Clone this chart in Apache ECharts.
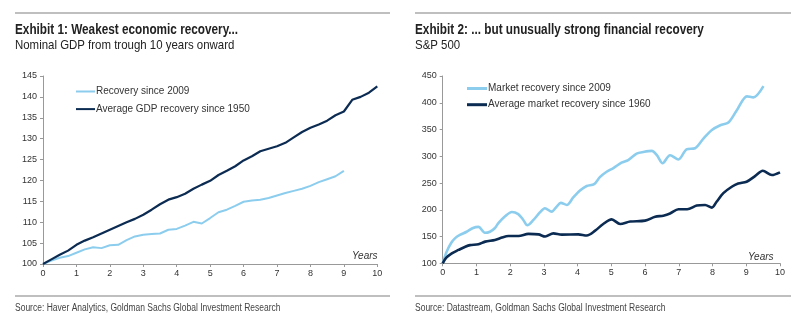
<!DOCTYPE html>
<html><head><meta charset="utf-8">
<script src="https://cdn.jsdelivr.net/npm/echarts@6/dist/echarts.min.js"></script>
<style>html,body{margin:0;padding:0;background:#fff}#c{width:805px;height:327px}</style>
</head><body><div id="c"></div>
<script>
// ---- Exhibit 1 data (quarterly, years from trough) ----
const gdpYears = [0,0.25,0.5,0.75,1,1.25,1.5,1.75,2,2.25,2.5,2.75,3,3.25,3.5,3.75,4,4.25,4.5,4.75,5,5.25,5.5,5.75,6,6.25,6.5,6.75,7,7.25,7.5,7.75,8,8.25,8.5,8.75,9,9.25,9.5,9.75,10];
const gdpRecovery2009 = [100,100.8,101.5,101.9,102.7,103.5,104.0,103.8,104.5,104.6,105.7,106.6,107.0,107.2,107.3,108.2,108.4,109.2,110.1,109.7,111.0,112.4,113.0,113.9,114.9,115.2,115.4,115.8,116.4,117.0,117.5,118.0,118.7,119.6,120.3,121.0,122.3];
const gdpAverage1950 = [100,101.1,102.2,103.2,104.6,105.6,106.4,107.3,108.2,109.1,110.0,110.8,111.8,113.0,114.3,115.4,116.0,116.8,118.0,119.0,119.9,121.3,122.3,123.4,124.8,125.8,127.0,127.6,128.2,129.0,130.3,131.6,132.6,133.4,134.3,135.6,136.5,139.3,140.0,141.0,142.5];

// ---- Exhibit 2 data ----
const mktYears2009 = [0,0.12,0.25,0.37,0.51,0.71,0.9,1.06,1.25,1.4,1.55,1.65,1.85,2.05,2.24,2.39,2.51,2.69,2.88,3.03,3.23,3.38,3.5,3.68,3.87,4.07,4.27,4.49,4.66,4.86,5.06,5.3,5.5,5.75,5.95,6.2,6.35,6.52,6.74,6.99,7.23,7.48,7.73,7.98,8.23,8.47,8.72,9.02,9.21,9.51];
const mktRecovery2009 = [100,122,138,147,153,159,166,168,157,159,166,175,188,196,192,181,171,181,195,203,196.5,206,213,209,223,236,244.5,248,261,271,278,288,293,305,308,310,302,287,302,294,313,315,333,349,358,363,386,412,410,431];
const mktYears1960 = [0,0.1,0.27,0.47,0.67,0.81,1.06,1.26,1.55,1.75,1.95,2.25,2.54,2.84,3.04,3.28,3.53,4.02,4.27,4.52,4.76,5.01,5.26,5.56,6.0,6.3,6.54,6.74,6.99,7.25,7.53,7.78,7.98,8.12,8.32,8.57,8.76,9.01,9.26,9.49,9.76,10.0];
const mktAverage1960 = [100,110,118.7,125,131,134,135.5,140.5,143.6,148,151,151,155,154,150,156,153.5,154,152,161,173.5,182,173.5,178,179.7,187,189,193,201,201,208,209,204,215,231,243,249,252.5,263,273,265,270];

const LIGHT = '#8CCDEE', DARK = '#0B2B52';
const sans = "'Liberation Sans',Arial,sans-serif";

function pairs(xs, ys){ return ys.map((v,i)=>[xs[i], v]); }

const axisCommon = {
  axisLine:{show:true, lineStyle:{color:'#999', width:1}},
  axisTick:{show:true, length:3, lineStyle:{color:'#999'}},
  splitLine:{show:false},
  axisLabel:{color:'#333', fontSize:9, fontFamily:sans}
};

function txt(x, y, s, font, fill, sx){
  return {type:'text', x:x, y:y, scaleX:sx, style:{text:s, font:font, fill:fill}};
}

const chart = echarts.init(document.getElementById('c'), null, {renderer:'canvas'});
chart.setOption({
  animation:false,
  backgroundColor:'#fff',
  grid:[
    {left:43, right:427.7, top:76, bottom:63, containLabel:false},
    {left:442.7, right:25, top:76, bottom:63.7, containLabel:false}
  ],
  xAxis:[
    Object.assign({}, axisCommon, {type:'value', gridIndex:0, min:0, max:10, interval:1,
      axisLabel:Object.assign({}, axisCommon.axisLabel, {margin:5})}),
    Object.assign({}, axisCommon, {type:'value', gridIndex:1, min:0, max:10, interval:1,
      axisLabel:Object.assign({}, axisCommon.axisLabel, {margin:5})})
  ],
  yAxis:[
    Object.assign({}, axisCommon, {type:'value', gridIndex:0, min:100, max:145, interval:5,
      axisLabel:Object.assign({}, axisCommon.axisLabel, {margin:6})}),
    Object.assign({}, axisCommon, {type:'value', gridIndex:1, min:100, max:450, interval:50,
      axisLabel:Object.assign({}, axisCommon.axisLabel, {margin:6})})
  ],
  legend:[
    {left:76, top:85.5, padding:0, orient:'vertical', itemWidth:19, itemHeight:2, itemGap:5.6, icon:'rect',
     textStyle:{fontSize:10, fontFamily:sans, color:'#333', lineHeight:12, padding:[0,0,0,-4]},
     data:['Recovery since 2009','Average GDP recovery since 1950']},
    {left:467, top:82.5, padding:0, orient:'vertical', itemWidth:20, itemHeight:3, itemGap:4.2, icon:'rect',
     textStyle:{fontSize:10, fontFamily:sans, color:'#333', lineHeight:12, padding:[0,0,0,-4]},
     data:['Market recovery since 2009','Average market recovery since 1960']}
  ],
  series:[
    {name:'Recovery since 2009', type:'line', xAxisIndex:0, yAxisIndex:0, showSymbol:false,
     data:pairs(gdpYears, gdpRecovery2009), lineStyle:{color:LIGHT, width:2}, itemStyle:{color:LIGHT}},
    {name:'Average GDP recovery since 1950', type:'line', xAxisIndex:0, yAxisIndex:0, showSymbol:false,
     data:pairs(gdpYears, gdpAverage1950), lineStyle:{color:DARK, width:2.2}, itemStyle:{color:DARK}},
    {name:'Market recovery since 2009', type:'line', xAxisIndex:1, yAxisIndex:1, showSymbol:false, smooth:0.3,
     data:pairs(mktYears2009, mktRecovery2009), lineStyle:{color:LIGHT, width:2.6}, itemStyle:{color:LIGHT}},
    {name:'Average market recovery since 1960', type:'line', xAxisIndex:1, yAxisIndex:1, showSymbol:false, smooth:0.3,
     data:pairs(mktYears1960, mktAverage1960), lineStyle:{color:DARK, width:2.6}, itemStyle:{color:DARK}}
  ],
  graphic:[
    {type:'line', shape:{x1:15,y1:13,x2:390,y2:13}, style:{stroke:'#aaa', lineWidth:1.5}},
    {type:'line', shape:{x1:415,y1:13,x2:791,y2:13}, style:{stroke:'#aaa', lineWidth:1.5}},
    {type:'line', shape:{x1:15,y1:296,x2:390,y2:296}, style:{stroke:'#aaa', lineWidth:1.5}},
    {type:'line', shape:{x1:415,y1:296,x2:791,y2:296}, style:{stroke:'#aaa', lineWidth:1.5}},
    txt(15, 23, 'Exhibit 1: Weakest economic recovery...', 'bold 14px '+sans, '#222', 0.84),
    txt(15, 38.5, 'Nominal GDP from trough 10 years onward', '13px '+sans, '#222', 0.88),
    txt(415, 23, 'Exhibit 2: ... but unusually strong financial recovery', 'bold 14px '+sans, '#222', 0.84),
    txt(415, 38.5, 'S&P 500', '13px '+sans, '#222', 0.88),
    txt(15, 303, 'Source: Haver Analytics, Goldman Sachs Global Investment Research', '10px '+sans, '#444', 0.85),
    txt(415, 303, 'Source: Datastream, Goldman Sachs Global Investment Research', '10px '+sans, '#444', 0.85),
    txt(352, 251, 'Years', 'italic 10px '+sans, '#333', 1),
    txt(748, 252, 'Years', 'italic 10px '+sans, '#333', 1)
  ]
});
</script></body></html>
